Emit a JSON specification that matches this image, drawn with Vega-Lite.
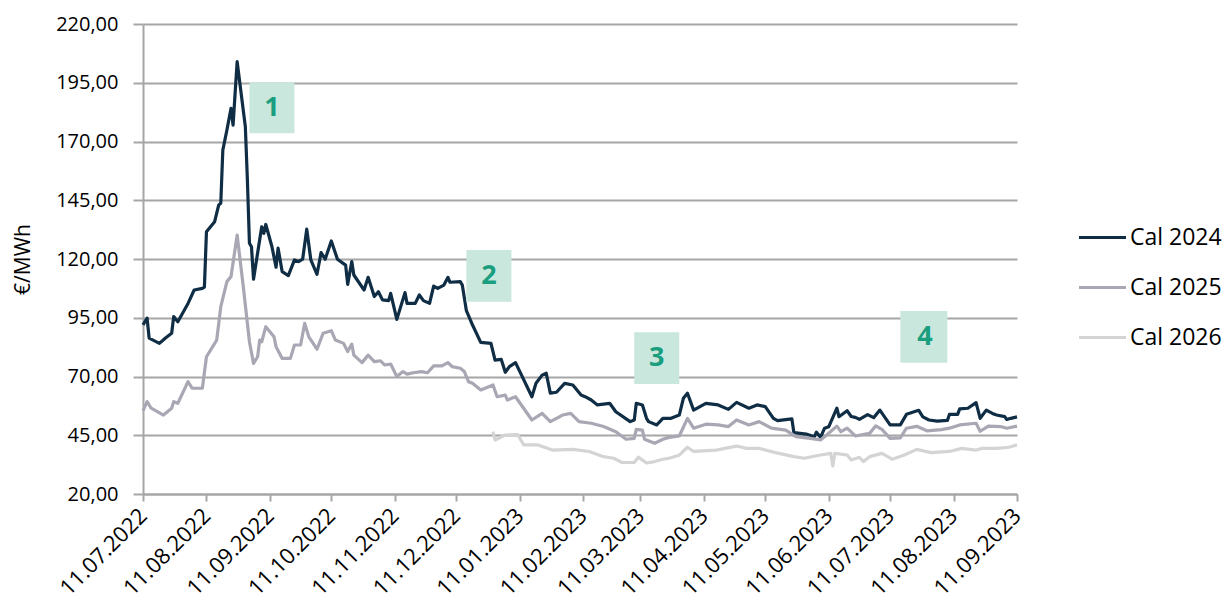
{
  "$schema": "https://vega.github.io/schema/vega-lite/v6.json",
  "width": 874,
  "height": 470,
  "autosize": {"type": "none"},
  "padding": {"left": 143, "top": 24, "right": 210, "bottom": 118},
  "background": "white",
  "config": {"view": {"stroke": null}, "font": "Open Sans"},
  "datasets": {
    "boxes": [
      {"start": "2022-09-01", "end": "2022-09-23", "mid": "2022-09-12", "top": 195.2, "bottom": 173.5, "center": 184.3, "label": "1"},
      {"start": "2022-12-16", "end": "2023-01-07", "mid": "2022-12-27", "top": 123.8, "bottom": 101.8, "center": 112.8, "label": "2"},
      {"start": "2023-03-08", "end": "2023-03-30", "mid": "2023-03-19", "top": 88.8, "bottom": 66.8, "center": 77.8, "label": "3"},
      {"start": "2023-07-16", "end": "2023-08-08", "mid": "2023-07-28", "top": 97.9, "bottom": 75.9, "center": 86.9, "label": "4"}
    ],
    "prices": [
      {"date": "2022-07-11", "series": "Cal 2024", "price": 92},
      {"date": "2022-07-13", "series": "Cal 2024", "price": 94.8},
      {"date": "2022-07-14", "series": "Cal 2024", "price": 86.3},
      {"date": "2022-07-19", "series": "Cal 2024", "price": 84.1},
      {"date": "2022-07-22", "series": "Cal 2024", "price": 86.4},
      {"date": "2022-07-25", "series": "Cal 2024", "price": 88.4},
      {"date": "2022-07-26", "series": "Cal 2024", "price": 95.5},
      {"date": "2022-07-28", "series": "Cal 2024", "price": 93.3},
      {"date": "2022-08-02", "series": "Cal 2024", "price": 101.1},
      {"date": "2022-08-05", "series": "Cal 2024", "price": 106.8},
      {"date": "2022-08-09", "series": "Cal 2024", "price": 107.5},
      {"date": "2022-08-10", "series": "Cal 2024", "price": 108},
      {"date": "2022-08-11", "series": "Cal 2024", "price": 131.6},
      {"date": "2022-08-15", "series": "Cal 2024", "price": 135.9},
      {"date": "2022-08-17", "series": "Cal 2024", "price": 143},
      {"date": "2022-08-18", "series": "Cal 2024", "price": 143.7},
      {"date": "2022-08-19", "series": "Cal 2024", "price": 166.4},
      {"date": "2022-08-21", "series": "Cal 2024", "price": 174.9},
      {"date": "2022-08-23", "series": "Cal 2024", "price": 184.1},
      {"date": "2022-08-24", "series": "Cal 2024", "price": 177},
      {"date": "2022-08-26", "series": "Cal 2024", "price": 204},
      {"date": "2022-08-30", "series": "Cal 2024", "price": 176.3},
      {"date": "2022-08-31", "series": "Cal 2024", "price": 153.6},
      {"date": "2022-09-01", "series": "Cal 2024", "price": 126.7},
      {"date": "2022-09-02", "series": "Cal 2024", "price": 125.2},
      {"date": "2022-09-03", "series": "Cal 2024", "price": 111.4},
      {"date": "2022-09-07", "series": "Cal 2024", "price": 133.7},
      {"date": "2022-09-08", "series": "Cal 2024", "price": 130.9},
      {"date": "2022-09-09", "series": "Cal 2024", "price": 134.7},
      {"date": "2022-09-12", "series": "Cal 2024", "price": 125.2},
      {"date": "2022-09-14", "series": "Cal 2024", "price": 116.5},
      {"date": "2022-09-15", "series": "Cal 2024", "price": 124.6},
      {"date": "2022-09-17", "series": "Cal 2024", "price": 114.6},
      {"date": "2022-09-20", "series": "Cal 2024", "price": 112.9},
      {"date": "2022-09-23", "series": "Cal 2024", "price": 119.6},
      {"date": "2022-09-25", "series": "Cal 2024", "price": 118.9},
      {"date": "2022-09-27", "series": "Cal 2024", "price": 119.9},
      {"date": "2022-09-29", "series": "Cal 2024", "price": 132.7},
      {"date": "2022-10-01", "series": "Cal 2024", "price": 119.6},
      {"date": "2022-10-04", "series": "Cal 2024", "price": 113.5},
      {"date": "2022-10-06", "series": "Cal 2024", "price": 122.7},
      {"date": "2022-10-08", "series": "Cal 2024", "price": 119.9},
      {"date": "2022-10-11", "series": "Cal 2024", "price": 127.7},
      {"date": "2022-10-14", "series": "Cal 2024", "price": 119.9},
      {"date": "2022-10-18", "series": "Cal 2024", "price": 117.4},
      {"date": "2022-10-19", "series": "Cal 2024", "price": 109.2},
      {"date": "2022-10-21", "series": "Cal 2024", "price": 118.9},
      {"date": "2022-10-22", "series": "Cal 2024", "price": 113.2},
      {"date": "2022-10-27", "series": "Cal 2024", "price": 106.8},
      {"date": "2022-10-29", "series": "Cal 2024", "price": 112.2},
      {"date": "2022-11-01", "series": "Cal 2024", "price": 104},
      {"date": "2022-11-03", "series": "Cal 2024", "price": 106.1},
      {"date": "2022-11-05", "series": "Cal 2024", "price": 102.6},
      {"date": "2022-11-08", "series": "Cal 2024", "price": 102.3},
      {"date": "2022-11-09", "series": "Cal 2024", "price": 105.4},
      {"date": "2022-11-12", "series": "Cal 2024", "price": 94.3},
      {"date": "2022-11-16", "series": "Cal 2024", "price": 105.7},
      {"date": "2022-11-17", "series": "Cal 2024", "price": 101.1},
      {"date": "2022-11-21", "series": "Cal 2024", "price": 101.1},
      {"date": "2022-11-23", "series": "Cal 2024", "price": 104.7},
      {"date": "2022-11-25", "series": "Cal 2024", "price": 102.3},
      {"date": "2022-11-28", "series": "Cal 2024", "price": 101.1},
      {"date": "2022-11-30", "series": "Cal 2024", "price": 108.5},
      {"date": "2022-12-02", "series": "Cal 2024", "price": 107.5},
      {"date": "2022-12-05", "series": "Cal 2024", "price": 108.9},
      {"date": "2022-12-07", "series": "Cal 2024", "price": 112.2},
      {"date": "2022-12-08", "series": "Cal 2024", "price": 110.1},
      {"date": "2022-12-13", "series": "Cal 2024", "price": 110.4},
      {"date": "2022-12-14", "series": "Cal 2024", "price": 108.9},
      {"date": "2022-12-16", "series": "Cal 2024", "price": 98},
      {"date": "2022-12-19", "series": "Cal 2024", "price": 91.9},
      {"date": "2022-12-23", "series": "Cal 2024", "price": 84.5},
      {"date": "2022-12-28", "series": "Cal 2024", "price": 84.1},
      {"date": "2022-12-30", "series": "Cal 2024", "price": 77},
      {"date": "2023-01-02", "series": "Cal 2024", "price": 77.3},
      {"date": "2023-01-04", "series": "Cal 2024", "price": 71.8},
      {"date": "2023-01-06", "series": "Cal 2024", "price": 74.2},
      {"date": "2023-01-09", "series": "Cal 2024", "price": 75.9},
      {"date": "2023-01-17", "series": "Cal 2024", "price": 61.4},
      {"date": "2023-01-19", "series": "Cal 2024", "price": 67.1},
      {"date": "2023-01-22", "series": "Cal 2024", "price": 70.6},
      {"date": "2023-01-24", "series": "Cal 2024", "price": 71.4},
      {"date": "2023-01-26", "series": "Cal 2024", "price": 62.9},
      {"date": "2023-01-29", "series": "Cal 2024", "price": 63.3},
      {"date": "2023-02-02", "series": "Cal 2024", "price": 67.1},
      {"date": "2023-02-06", "series": "Cal 2024", "price": 66.4},
      {"date": "2023-02-10", "series": "Cal 2024", "price": 62.1},
      {"date": "2023-02-12", "series": "Cal 2024", "price": 61.4},
      {"date": "2023-02-15", "series": "Cal 2024", "price": 60},
      {"date": "2023-02-18", "series": "Cal 2024", "price": 57.9},
      {"date": "2023-02-24", "series": "Cal 2024", "price": 58.6},
      {"date": "2023-02-27", "series": "Cal 2024", "price": 55},
      {"date": "2023-03-06", "series": "Cal 2024", "price": 50.8},
      {"date": "2023-03-08", "series": "Cal 2024", "price": 51.5},
      {"date": "2023-03-09", "series": "Cal 2024", "price": 58.6},
      {"date": "2023-03-12", "series": "Cal 2024", "price": 57.9},
      {"date": "2023-03-14", "series": "Cal 2024", "price": 52.2},
      {"date": "2023-03-15", "series": "Cal 2024", "price": 50.8},
      {"date": "2023-03-19", "series": "Cal 2024", "price": 49.4},
      {"date": "2023-03-22", "series": "Cal 2024", "price": 52.2},
      {"date": "2023-03-26", "series": "Cal 2024", "price": 52.2},
      {"date": "2023-03-30", "series": "Cal 2024", "price": 53.6},
      {"date": "2023-04-01", "series": "Cal 2024", "price": 60.7},
      {"date": "2023-04-03", "series": "Cal 2024", "price": 62.9},
      {"date": "2023-04-06", "series": "Cal 2024", "price": 55.7},
      {"date": "2023-04-12", "series": "Cal 2024", "price": 58.6},
      {"date": "2023-04-18", "series": "Cal 2024", "price": 57.9},
      {"date": "2023-04-23", "series": "Cal 2024", "price": 56},
      {"date": "2023-04-27", "series": "Cal 2024", "price": 59},
      {"date": "2023-05-03", "series": "Cal 2024", "price": 56.5},
      {"date": "2023-05-07", "series": "Cal 2024", "price": 57.9},
      {"date": "2023-05-11", "series": "Cal 2024", "price": 57.2},
      {"date": "2023-05-15", "series": "Cal 2024", "price": 52.2},
      {"date": "2023-05-17", "series": "Cal 2024", "price": 51.2},
      {"date": "2023-05-24", "series": "Cal 2024", "price": 52},
      {"date": "2023-05-25", "series": "Cal 2024", "price": 46.1},
      {"date": "2023-05-31", "series": "Cal 2024", "price": 45.5},
      {"date": "2023-06-04", "series": "Cal 2024", "price": 44.4},
      {"date": "2023-06-05", "series": "Cal 2024", "price": 46.3},
      {"date": "2023-06-07", "series": "Cal 2024", "price": 44.1},
      {"date": "2023-06-09", "series": "Cal 2024", "price": 48},
      {"date": "2023-06-11", "series": "Cal 2024", "price": 48.6},
      {"date": "2023-06-15", "series": "Cal 2024", "price": 56.5},
      {"date": "2023-06-16", "series": "Cal 2024", "price": 52.9},
      {"date": "2023-06-20", "series": "Cal 2024", "price": 55.4},
      {"date": "2023-06-22", "series": "Cal 2024", "price": 53},
      {"date": "2023-06-24", "series": "Cal 2024", "price": 52.6},
      {"date": "2023-06-26", "series": "Cal 2024", "price": 51.8},
      {"date": "2023-06-30", "series": "Cal 2024", "price": 53.8},
      {"date": "2023-07-03", "series": "Cal 2024", "price": 52.5},
      {"date": "2023-07-06", "series": "Cal 2024", "price": 55.7},
      {"date": "2023-07-11", "series": "Cal 2024", "price": 49.4},
      {"date": "2023-07-16", "series": "Cal 2024", "price": 49.4},
      {"date": "2023-07-19", "series": "Cal 2024", "price": 53.9},
      {"date": "2023-07-25", "series": "Cal 2024", "price": 55.6},
      {"date": "2023-07-27", "series": "Cal 2024", "price": 52.8},
      {"date": "2023-07-30", "series": "Cal 2024", "price": 51.5},
      {"date": "2023-08-03", "series": "Cal 2024", "price": 51},
      {"date": "2023-08-08", "series": "Cal 2024", "price": 51.3},
      {"date": "2023-08-09", "series": "Cal 2024", "price": 53.9},
      {"date": "2023-08-13", "series": "Cal 2024", "price": 53.9},
      {"date": "2023-08-14", "series": "Cal 2024", "price": 56.2},
      {"date": "2023-08-18", "series": "Cal 2024", "price": 56.5},
      {"date": "2023-08-22", "series": "Cal 2024", "price": 58.9},
      {"date": "2023-08-24", "series": "Cal 2024", "price": 52.2},
      {"date": "2023-08-27", "series": "Cal 2024", "price": 55.7},
      {"date": "2023-08-30", "series": "Cal 2024", "price": 54.3},
      {"date": "2023-09-01", "series": "Cal 2024", "price": 53.6},
      {"date": "2023-09-05", "series": "Cal 2024", "price": 52.9},
      {"date": "2023-09-06", "series": "Cal 2024", "price": 51.7},
      {"date": "2023-09-08", "series": "Cal 2024", "price": 52.2},
      {"date": "2023-09-11", "series": "Cal 2024", "price": 52.8},

      {"date": "2022-07-11", "series": "Cal 2025", "price": 55.5},
      {"date": "2022-07-13", "series": "Cal 2025", "price": 59.3},
      {"date": "2022-07-15", "series": "Cal 2025", "price": 56.5},
      {"date": "2022-07-21", "series": "Cal 2025", "price": 53.6},
      {"date": "2022-07-25", "series": "Cal 2025", "price": 56.5},
      {"date": "2022-07-26", "series": "Cal 2025", "price": 59.3},
      {"date": "2022-07-28", "series": "Cal 2025", "price": 58.6},
      {"date": "2022-08-02", "series": "Cal 2025", "price": 67.8},
      {"date": "2022-08-04", "series": "Cal 2025", "price": 65},
      {"date": "2022-08-09", "series": "Cal 2025", "price": 65},
      {"date": "2022-08-11", "series": "Cal 2025", "price": 78.4},
      {"date": "2022-08-16", "series": "Cal 2025", "price": 85.5},
      {"date": "2022-08-18", "series": "Cal 2025", "price": 99.7},
      {"date": "2022-08-21", "series": "Cal 2025", "price": 110.4},
      {"date": "2022-08-23", "series": "Cal 2025", "price": 112.5},
      {"date": "2022-08-26", "series": "Cal 2025", "price": 130.2},
      {"date": "2022-08-29", "series": "Cal 2025", "price": 108.2},
      {"date": "2022-09-01", "series": "Cal 2025", "price": 84.8},
      {"date": "2022-09-03", "series": "Cal 2025", "price": 75.6},
      {"date": "2022-09-05", "series": "Cal 2025", "price": 78.4},
      {"date": "2022-09-06", "series": "Cal 2025", "price": 85.5},
      {"date": "2022-09-07", "series": "Cal 2025", "price": 84.8},
      {"date": "2022-09-09", "series": "Cal 2025", "price": 91.2},
      {"date": "2022-09-13", "series": "Cal 2025", "price": 86.9},
      {"date": "2022-09-14", "series": "Cal 2025", "price": 82.7},
      {"date": "2022-09-17", "series": "Cal 2025", "price": 77.7},
      {"date": "2022-09-21", "series": "Cal 2025", "price": 77.7},
      {"date": "2022-09-23", "series": "Cal 2025", "price": 83.4},
      {"date": "2022-09-26", "series": "Cal 2025", "price": 83.4},
      {"date": "2022-09-28", "series": "Cal 2025", "price": 92.6},
      {"date": "2022-09-30", "series": "Cal 2025", "price": 86.9},
      {"date": "2022-10-04", "series": "Cal 2025", "price": 81.6},
      {"date": "2022-10-07", "series": "Cal 2025", "price": 88.4},
      {"date": "2022-10-11", "series": "Cal 2025", "price": 89.5},
      {"date": "2022-10-13", "series": "Cal 2025", "price": 85.5},
      {"date": "2022-10-17", "series": "Cal 2025", "price": 84.1},
      {"date": "2022-10-19", "series": "Cal 2025", "price": 80.6},
      {"date": "2022-10-21", "series": "Cal 2025", "price": 83.8},
      {"date": "2022-10-22", "series": "Cal 2025", "price": 79.1},
      {"date": "2022-10-26", "series": "Cal 2025", "price": 75.9},
      {"date": "2022-10-29", "series": "Cal 2025", "price": 79.1},
      {"date": "2022-11-01", "series": "Cal 2025", "price": 76.3},
      {"date": "2022-11-04", "series": "Cal 2025", "price": 76.7},
      {"date": "2022-11-06", "series": "Cal 2025", "price": 74.9},
      {"date": "2022-11-09", "series": "Cal 2025", "price": 75.3},
      {"date": "2022-11-12", "series": "Cal 2025", "price": 70},
      {"date": "2022-11-15", "series": "Cal 2025", "price": 72.1},
      {"date": "2022-11-17", "series": "Cal 2025", "price": 71},
      {"date": "2022-11-20", "series": "Cal 2025", "price": 71.6},
      {"date": "2022-11-24", "series": "Cal 2025", "price": 72.1},
      {"date": "2022-11-27", "series": "Cal 2025", "price": 71.6},
      {"date": "2022-11-30", "series": "Cal 2025", "price": 74.5},
      {"date": "2022-12-04", "series": "Cal 2025", "price": 74.5},
      {"date": "2022-12-07", "series": "Cal 2025", "price": 75.9},
      {"date": "2022-12-09", "series": "Cal 2025", "price": 74.2},
      {"date": "2022-12-13", "series": "Cal 2025", "price": 73.5},
      {"date": "2022-12-15", "series": "Cal 2025", "price": 72.1},
      {"date": "2022-12-17", "series": "Cal 2025", "price": 67.8},
      {"date": "2022-12-19", "series": "Cal 2025", "price": 67.1},
      {"date": "2022-12-23", "series": "Cal 2025", "price": 64.3},
      {"date": "2022-12-29", "series": "Cal 2025", "price": 66.4},
      {"date": "2022-12-31", "series": "Cal 2025", "price": 61.4},
      {"date": "2023-01-04", "series": "Cal 2025", "price": 62.1},
      {"date": "2023-01-05", "series": "Cal 2025", "price": 60},
      {"date": "2023-01-09", "series": "Cal 2025", "price": 61.4},
      {"date": "2023-01-17", "series": "Cal 2025", "price": 51.5},
      {"date": "2023-01-22", "series": "Cal 2025", "price": 54.3},
      {"date": "2023-01-26", "series": "Cal 2025", "price": 50.8},
      {"date": "2023-02-01", "series": "Cal 2025", "price": 53.6},
      {"date": "2023-02-05", "series": "Cal 2025", "price": 54.3},
      {"date": "2023-02-09", "series": "Cal 2025", "price": 50.8},
      {"date": "2023-02-15", "series": "Cal 2025", "price": 50.1},
      {"date": "2023-02-21", "series": "Cal 2025", "price": 48.7},
      {"date": "2023-02-27", "series": "Cal 2025", "price": 46.5},
      {"date": "2023-03-04", "series": "Cal 2025", "price": 43.3},
      {"date": "2023-03-08", "series": "Cal 2025", "price": 43.7},
      {"date": "2023-03-09", "series": "Cal 2025", "price": 47.5},
      {"date": "2023-03-12", "series": "Cal 2025", "price": 47.2},
      {"date": "2023-03-13", "series": "Cal 2025", "price": 43.3},
      {"date": "2023-03-18", "series": "Cal 2025", "price": 41.6},
      {"date": "2023-03-22", "series": "Cal 2025", "price": 43.3},
      {"date": "2023-03-25", "series": "Cal 2025", "price": 44.1},
      {"date": "2023-03-30", "series": "Cal 2025", "price": 44.7},
      {"date": "2023-04-03", "series": "Cal 2025", "price": 52.2},
      {"date": "2023-04-06", "series": "Cal 2025", "price": 48},
      {"date": "2023-04-12", "series": "Cal 2025", "price": 49.7},
      {"date": "2023-04-18", "series": "Cal 2025", "price": 49.4},
      {"date": "2023-04-23", "series": "Cal 2025", "price": 48.7},
      {"date": "2023-04-27", "series": "Cal 2025", "price": 51.5},
      {"date": "2023-05-03", "series": "Cal 2025", "price": 49.4},
      {"date": "2023-05-08", "series": "Cal 2025", "price": 50.8},
      {"date": "2023-05-14", "series": "Cal 2025", "price": 48},
      {"date": "2023-05-21", "series": "Cal 2025", "price": 47.2},
      {"date": "2023-05-26", "series": "Cal 2025", "price": 44.4},
      {"date": "2023-06-02", "series": "Cal 2025", "price": 43.7},
      {"date": "2023-06-07", "series": "Cal 2025", "price": 43},
      {"date": "2023-06-10", "series": "Cal 2025", "price": 45.1},
      {"date": "2023-06-15", "series": "Cal 2025", "price": 48.9},
      {"date": "2023-06-17", "series": "Cal 2025", "price": 46.5},
      {"date": "2023-06-20", "series": "Cal 2025", "price": 48},
      {"date": "2023-06-24", "series": "Cal 2025", "price": 44.7},
      {"date": "2023-07-01", "series": "Cal 2025", "price": 45.8},
      {"date": "2023-07-04", "series": "Cal 2025", "price": 49},
      {"date": "2023-07-07", "series": "Cal 2025", "price": 47.5},
      {"date": "2023-07-11", "series": "Cal 2025", "price": 43.7},
      {"date": "2023-07-16", "series": "Cal 2025", "price": 43.9},
      {"date": "2023-07-19", "series": "Cal 2025", "price": 48},
      {"date": "2023-07-24", "series": "Cal 2025", "price": 48.8},
      {"date": "2023-07-29", "series": "Cal 2025", "price": 46.9},
      {"date": "2023-08-05", "series": "Cal 2025", "price": 47.4},
      {"date": "2023-08-09", "series": "Cal 2025", "price": 48},
      {"date": "2023-08-14", "series": "Cal 2025", "price": 49.4},
      {"date": "2023-08-22", "series": "Cal 2025", "price": 50.1},
      {"date": "2023-08-24", "series": "Cal 2025", "price": 46.7},
      {"date": "2023-08-28", "series": "Cal 2025", "price": 48.9},
      {"date": "2023-09-03", "series": "Cal 2025", "price": 48.7},
      {"date": "2023-09-06", "series": "Cal 2025", "price": 48},
      {"date": "2023-09-11", "series": "Cal 2025", "price": 48.9},

      {"date": "2022-12-29", "series": "Cal 2026", "price": 46.5},
      {"date": "2022-12-30", "series": "Cal 2026", "price": 43},
      {"date": "2023-01-04", "series": "Cal 2026", "price": 45.1},
      {"date": "2023-01-10", "series": "Cal 2026", "price": 45.3},
      {"date": "2023-01-13", "series": "Cal 2026", "price": 40.9},
      {"date": "2023-01-20", "series": "Cal 2026", "price": 40.9},
      {"date": "2023-01-27", "series": "Cal 2026", "price": 38.7},
      {"date": "2023-02-06", "series": "Cal 2026", "price": 39},
      {"date": "2023-02-14", "series": "Cal 2026", "price": 38.1},
      {"date": "2023-02-21", "series": "Cal 2026", "price": 35.9},
      {"date": "2023-02-26", "series": "Cal 2026", "price": 35.2},
      {"date": "2023-03-02", "series": "Cal 2026", "price": 33.4},
      {"date": "2023-03-08", "series": "Cal 2026", "price": 33.4},
      {"date": "2023-03-10", "series": "Cal 2026", "price": 35.7},
      {"date": "2023-03-14", "series": "Cal 2026", "price": 33.2},
      {"date": "2023-03-18", "series": "Cal 2026", "price": 33.8},
      {"date": "2023-03-22", "series": "Cal 2026", "price": 34.8},
      {"date": "2023-03-25", "series": "Cal 2026", "price": 35.2},
      {"date": "2023-03-30", "series": "Cal 2026", "price": 36.5},
      {"date": "2023-04-03", "series": "Cal 2026", "price": 39.9},
      {"date": "2023-04-06", "series": "Cal 2026", "price": 38.1},
      {"date": "2023-04-17", "series": "Cal 2026", "price": 38.7},
      {"date": "2023-04-27", "series": "Cal 2026", "price": 40.4},
      {"date": "2023-05-02", "series": "Cal 2026", "price": 39.4},
      {"date": "2023-05-08", "series": "Cal 2026", "price": 39.4},
      {"date": "2023-05-16", "series": "Cal 2026", "price": 37.6},
      {"date": "2023-05-25", "series": "Cal 2026", "price": 35.9},
      {"date": "2023-05-30", "series": "Cal 2026", "price": 35.2},
      {"date": "2023-06-07", "series": "Cal 2026", "price": 36.6},
      {"date": "2023-06-12", "series": "Cal 2026", "price": 37.3},
      {"date": "2023-06-13", "series": "Cal 2026", "price": 31.9},
      {"date": "2023-06-14", "series": "Cal 2026", "price": 37.3},
      {"date": "2023-06-20", "series": "Cal 2026", "price": 36.6},
      {"date": "2023-06-22", "series": "Cal 2026", "price": 34.5},
      {"date": "2023-06-26", "series": "Cal 2026", "price": 35.6},
      {"date": "2023-06-28", "series": "Cal 2026", "price": 33.8},
      {"date": "2023-07-01", "series": "Cal 2026", "price": 35.9},
      {"date": "2023-07-07", "series": "Cal 2026", "price": 37.3},
      {"date": "2023-07-12", "series": "Cal 2026", "price": 34.8},
      {"date": "2023-07-18", "series": "Cal 2026", "price": 36.6},
      {"date": "2023-07-24", "series": "Cal 2026", "price": 39},
      {"date": "2023-07-31", "series": "Cal 2026", "price": 37.6},
      {"date": "2023-08-09", "series": "Cal 2026", "price": 38.1},
      {"date": "2023-08-15", "series": "Cal 2026", "price": 39.4},
      {"date": "2023-08-22", "series": "Cal 2026", "price": 38.7},
      {"date": "2023-08-25", "series": "Cal 2026", "price": 39.4},
      {"date": "2023-09-01", "series": "Cal 2026", "price": 39.4},
      {"date": "2023-09-07", "series": "Cal 2026", "price": 39.9},
      {"date": "2023-09-11", "series": "Cal 2026", "price": 40.9}
    ]
  },
  "layer": [
    {
      "data": {"name": "prices"},
      "mark": {"type": "line", "strokeWidth": 3.2, "strokeJoin": "round"},
      "encoding": {
        "x": {
          "field": "date",
          "type": "temporal",
          "scale": {"type": "utc", "domain": [{"year": 2022, "month": 7, "date": 11, "utc": true}, {"year": 2023, "month": 9, "date": 11, "utc": true}]},
          "axis": {
            "title": null,
            "values": [
              {"year": 2022, "month": 7, "date": 11, "utc": true},
              {"year": 2022, "month": 8, "date": 11, "utc": true},
              {"year": 2022, "month": 9, "date": 11, "utc": true},
              {"year": 2022, "month": 10, "date": 11, "utc": true},
              {"year": 2022, "month": 11, "date": 11, "utc": true},
              {"year": 2022, "month": 12, "date": 11, "utc": true},
              {"year": 2023, "month": 1, "date": 11, "utc": true},
              {"year": 2023, "month": 2, "date": 11, "utc": true},
              {"year": 2023, "month": 3, "date": 11, "utc": true},
              {"year": 2023, "month": 4, "date": 11, "utc": true},
              {"year": 2023, "month": 5, "date": 11, "utc": true},
              {"year": 2023, "month": 6, "date": 11, "utc": true},
              {"year": 2023, "month": 7, "date": 11, "utc": true},
              {"year": 2023, "month": 8, "date": 11, "utc": true},
              {"year": 2023, "month": 9, "date": 11, "utc": true}
            ],
            "labelExpr": "utcFormat(datum.value, '%d.%m.%Y')",
            "labelAngle": -45,
            "labelAlign": "right",
            "labelBaseline": "middle",
            "labelFontSize": 22,
            "labelColor": "#000000",
            "labelFont": "Open Sans",
            "labelPadding": 11,
            "labelOverlap": false,
            "labelBound": false,
            "labelFlush": false,
            "grid": false,
            "domainColor": "#a6a6a6",
            "domainWidth": 2,
            "tickColor": "#a6a6a6",
            "tickWidth": 2,
            "tickSize": 7
          }
        },
        "y": {
          "field": "price",
          "type": "quantitative",
          "scale": {"domain": [20, 220], "nice": false, "zero": false},
          "axis": {
            "title": "€/MWh",
            "titleFontSize": 21,
            "titleFontWeight": "normal",
            "titleColor": "#000000",
            "titleFont": "Open Sans",
            "titlePadding": 22,
            "values": [20, 45, 70, 95, 120, 145, 170, 195, 220],
            "labelExpr": "replace(format(datum.value, '.2f'), '.', ',')",
            "labelFontSize": 20,
            "labelColor": "#000000",
            "labelFont": "Open Sans",
            "labelPadding": 15,
            "grid": true,
            "gridColor": "#a6a6a6",
            "gridWidth": 2,
            "domainColor": "#a6a6a6",
            "domainWidth": 2,
            "tickColor": "#a6a6a6",
            "tickWidth": 2,
            "tickSize": 10
          }
        },
        "color": {
          "field": "series",
          "type": "nominal",
          "scale": {"domain": ["Cal 2024", "Cal 2025", "Cal 2026"], "range": ["#0f2d44", "#a8a7b3", "#d4d4d4"]},
          "legend": {
            "title": null,
            "orient": "none",
            "legendX": 934,
            "legendY": 188,
            "symbolType": "stroke",
            "symbolStrokeWidth": 3.2,
            "symbolSize": 2209,
            "labelFontSize": 23,
            "labelFont": "Open Sans",
            "labelColor": "#000000",
            "labelOffset": 2,
            "rowPadding": 12
          }
        }
      }
    },
    {
      "data": {"name": "boxes"},
      "mark": {"type": "rect", "color": "#c9e7dd"},
      "encoding": {
        "x": {"field": "start", "type": "temporal"},
        "x2": {"field": "end"},
        "y": {"field": "top", "type": "quantitative"},
        "y2": {"field": "bottom"}
      }
    },
    {
      "data": {"name": "boxes"},
      "mark": {"type": "text", "font": "Open Sans", "fontWeight": "bold", "fontSize": 27, "color": "#1a9e7e", "align": "center", "baseline": "middle"},
      "encoding": {
        "x": {"field": "mid", "type": "temporal"},
        "y": {"field": "center", "type": "quantitative"},
        "text": {"field": "label"}
      }
    }
  ]
}
